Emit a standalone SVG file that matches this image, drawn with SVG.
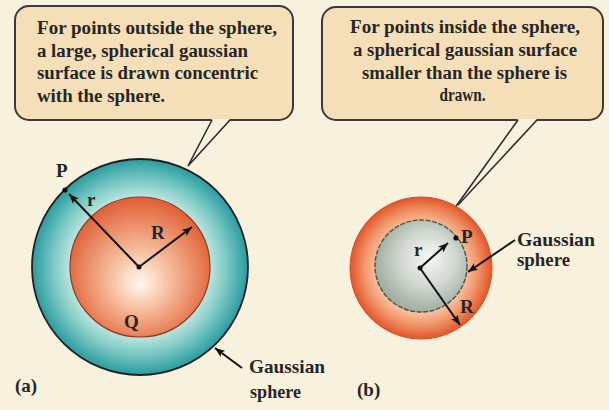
<svg xmlns="http://www.w3.org/2000/svg" width="609" height="410" viewBox="0 0 609 410">
<defs>
<style>
.box{fill:#f5dfb8;stroke:#3a3a3a;stroke-width:2}
.tail{fill:#f8f1de;stroke:none}
.tl{fill:none;stroke:#2e2e2e;stroke-width:1.6}
.t{font-family:"Liberation Serif","DejaVu Serif",serif;font-weight:bold;font-size:18px;fill:#262626}
.lbl{font-family:"Liberation Serif","DejaVu Serif",serif;font-weight:bold;font-size:19px;fill:#262626}
.arr{stroke:#111;stroke-width:2;fill:none;marker-end:url(#ah)}
.dot{fill:#111}
</style>
<marker id="ah" viewBox="0 0 10 8" refX="10" refY="4" markerWidth="10" markerHeight="8" markerUnits="userSpaceOnUse" orient="auto">
<path d="M0,0 L10,4 L0,8 L2.5,4 z" fill="#111"/>
</marker>
<radialGradient id="teal" cx="0.5" cy="0.5" r="0.5">
<stop offset="0.62" stop-color="#c9e9e3"/>
<stop offset="0.8" stop-color="#7ccac5"/>
<stop offset="1" stop-color="#2a9ba0"/>
</radialGradient>
<radialGradient id="orgA" cx="0.5" cy="0.55" r="0.55" fx="0.5" fy="0.62">
<stop offset="0" stop-color="#fff8f1"/>
<stop offset="0.4" stop-color="#f6bc9b"/>
<stop offset="1" stop-color="#df5e34"/>
</radialGradient>
<radialGradient id="orgB" cx="0.5" cy="0.5" r="0.5">
<stop offset="0.6" stop-color="#f8c9a8"/>
<stop offset="0.8" stop-color="#f2956a"/>
<stop offset="1" stop-color="#e2562a"/>
</radialGradient>
<radialGradient id="gray" cx="0.55" cy="0.45" r="0.6" fx="0.6" fy="0.4">
<stop offset="0" stop-color="#f6f8f3"/>
<stop offset="0.5" stop-color="#d0d8cf"/>
<stop offset="1" stop-color="#98a699"/>
</radialGradient>
</defs>
<rect x="0" y="0" width="609" height="410" fill="#f8f1de"/>

<g id="callout-a">
<rect class="box" x="15" y="6" width="278" height="114" rx="14"/>
<polygon class="tail" points="212,119 230,119 188,166"/>
<polyline class="tl" points="212,120 188,166 230,120"/>
<text class="t" x="37" y="34" textLength="240" lengthAdjust="spacingAndGlyphs">For points outside the sphere,</text>
<text class="t" x="37" y="56.5" textLength="211" lengthAdjust="spacingAndGlyphs">a large, spherical gaussian</text>
<text class="t" x="37" y="79" textLength="221" lengthAdjust="spacingAndGlyphs">surface is drawn concentric</text>
<text class="t" x="37" y="101.5" textLength="128" lengthAdjust="spacingAndGlyphs">with the sphere.</text>
</g>

<g id="sphere-a">
<circle cx="140" cy="267" r="108" fill="url(#teal)" stroke="#1f1f1f" stroke-width="1.8"/>
<circle cx="140" cy="267" r="70" fill="url(#orgA)" stroke="#8b3a1e" stroke-width="1.2"/>
<circle class="dot" cx="139" cy="267" r="2.5"/>
<circle class="dot" cx="65" cy="190" r="2.6"/>
<text class="lbl" x="56" y="177">P</text>
<text class="lbl" x="87" y="206">r</text>
<text class="lbl" x="151" y="239">R</text>
<text class="lbl" x="124" y="328">Q</text>
</g>

<g id="label-a">
<text class="lbl" x="249" y="373" textLength="76" lengthAdjust="spacingAndGlyphs">Gaussian</text>
<text class="lbl" x="250" y="398" textLength="51" lengthAdjust="spacingAndGlyphs">sphere</text>
<text class="lbl" x="15" y="392">(a)</text>
</g>

<g id="callout-b">
<rect class="box" x="322" y="7" width="281" height="113" rx="14"/>
<polygon class="tail" points="518,119 537,119 458,205"/>
<polyline class="tl" points="537,120 458,205"/>
<polyline class="tl" points="518,120 444,223"/>
<text class="t" x="465" y="33" text-anchor="middle" textLength="230" lengthAdjust="spacingAndGlyphs">For points inside the sphere,</text>
<text class="t" x="465" y="56" text-anchor="middle" textLength="224" lengthAdjust="spacingAndGlyphs">a spherical gaussian surface</text>
<text class="t" x="464.5" y="78.5" text-anchor="middle" textLength="205" lengthAdjust="spacingAndGlyphs">smaller than the sphere is</text>
<text class="t" x="462.5" y="101" text-anchor="middle" textLength="46" lengthAdjust="spacingAndGlyphs">drawn.</text>
</g>

<g id="sphere-b">
<circle cx="421" cy="268" r="71" fill="url(#orgB)" stroke="#d0532a" stroke-width="1"/>
<circle cx="421" cy="266" r="46" fill="url(#gray)" stroke="#4a554c" stroke-width="1.4" stroke-dasharray="5 1.5"/>
<circle class="dot" cx="420" cy="268" r="2.5"/>
<circle class="dot" cx="456" cy="238" r="2.6"/>
<text class="lbl" x="461" y="243">P</text>
<text class="lbl" x="414" y="256">r</text>
<text class="lbl" x="460" y="313">R</text>
</g>

<g id="label-b">
<text class="lbl" x="517" y="246" textLength="78" lengthAdjust="spacingAndGlyphs">Gaussian</text>
<text class="lbl" x="517" y="266" textLength="53" lengthAdjust="spacingAndGlyphs">sphere</text>
<text class="lbl" x="357" y="396">(b)</text>
</g>

<g id="connectors">
<line class="arr" x1="139" y1="267" x2="69" y2="194"/>
<line class="arr" x1="139" y1="267" x2="192" y2="227"/>
<line class="arr" x1="242" y1="368" x2="215" y2="348"/>
<line class="arr" x1="420" y1="268" x2="448" y2="243"/>
<line class="arr" x1="420" y1="268" x2="460" y2="325"/>
<line class="arr" x1="515" y1="240" x2="468" y2="272"/>
</g>
</svg>
